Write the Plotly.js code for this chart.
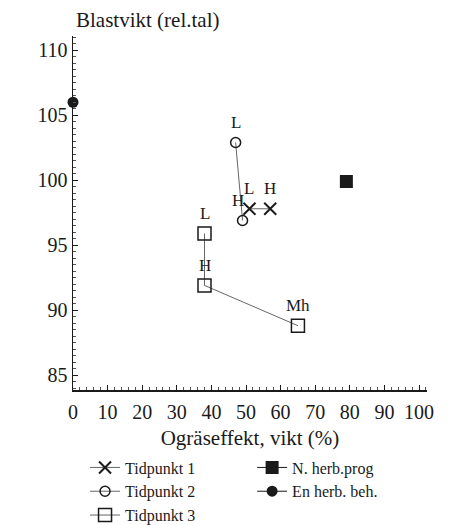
<!DOCTYPE html>
<html>
<head>
<meta charset="utf-8">
<script src="https://cdn.plot.ly/plotly-3.0.1.min.js"></script>
<style>html,body{margin:0;padding:0;background:#fff;}#chart{width:454px;height:525px;}</style>
</head>
<body>
<div id="chart"></div>
<script>
// Data
const t1X = [51, 57];
const t1Y = [97.8, 97.8];
const t1Labels = ['L', 'H'];

const t2X = [47, 49];
const t2Y = [102.9, 96.9];
const t2Labels = ['L', 'H'];

const t3X = [38, 38, 65];
const t3Y = [95.9, 91.9, 88.8];
const t3Labels = ['L', 'H', 'Mh'];

const nX = [79];
const nY = [99.9];

const enX = [0];
const enY = [106];

const xTicks = [0, 10, 20, 30, 40, 50, 60, 70, 80, 90, 100];
const yTicks = [85, 90, 95, 100, 105, 110];

const FONT = '"Liberation Serif"';
const INK = '#1a1a1a';
const LINE = '#666';

const traces = [
  {x: t1X, y: t1Y, name: 'Tidpunkt 1', mode: 'lines+markers', legend: 'legend',
   line: {color: LINE, width: 1}, marker: {symbol: 'x-thin-open', size: 12, color: INK, line: {color: INK, width: 2}}, cliponaxis: false},
  {x: t2X, y: t2Y, name: 'Tidpunkt 2', mode: 'lines+markers', legend: 'legend',
   line: {color: LINE, width: 1}, marker: {symbol: 'circle-open', size: 10, color: INK, line: {color: INK, width: 1.5}}, cliponaxis: false},
  {x: t3X, y: t3Y, name: 'Tidpunkt 3', mode: 'lines+markers', legend: 'legend',
   line: {color: LINE, width: 1}, marker: {symbol: 'square-open', size: 13, color: INK, line: {color: INK, width: 1.5}}, cliponaxis: false},
  {x: nX, y: nY, name: 'N. herb.prog', mode: 'lines+markers', legend: 'legend2',
   line: {color: INK, width: 1}, marker: {symbol: 'square', size: 13, color: INK}, cliponaxis: false},
  {x: enX, y: enY, name: 'En herb. beh.', mode: 'lines+markers', legend: 'legend2',
   line: {color: INK, width: 1}, marker: {symbol: 'circle', size: 11, color: INK}, cliponaxis: false}
];

const annotations = [];
function addLabels(xs, ys, labels, xshift) {
  labels.forEach((t, i) => annotations.push({
    x: xs[i], y: ys[i], xref: 'x', yref: 'y', text: t, showarrow: false,
    xshift: xshift ? xshift[i] : 0, yshift: 20, font: {family: FONT, size: 17, color: INK}
  }));
}
addLabels(t1X, t1Y, t1Labels);
addLabels(t2X, t2Y, t2Labels, [0, -5]);
addLabels(t3X, t3Y, t3Labels);

const layout = {
  width: 454, height: 525,
  margin: {l: 73, r: 27, t: 36, b: 135, autoexpand: false},
  paper_bgcolor: '#fff', plot_bgcolor: '#fff',
  font: {family: FONT, size: 18, color: INK},
  showlegend: true,
  title: {text: 'Blastvikt (rel.tal)', x: 76/454, xref: 'container', xanchor: 'left',
          y: 1 - 20/525, yref: 'container', yanchor: 'middle', font: {family: FONT, size: 21, color: INK}},
  xaxis: {
    range: [0, 102.3], tickmode: 'array', tickvals: xTicks, ticktext: xTicks.map(String),
    showgrid: false, zeroline: false, showline: true, linecolor: INK, linewidth: 1.5,
    ticks: 'inside', ticklen: 5, tickcolor: INK, tickwidth: 1, ticklabelstandoff: 3,
    minor: {dtick: 2, ticks: 'inside', ticklen: 3, tickcolor: '#555', showgrid: false},
    tickfont: {family: FONT, size: 20, color: INK},
    title: {text: 'Ogräseffekt, vikt (%)', font: {family: FONT, size: 21, color: INK}, standoff: 9},
    fixedrange: true
  },
  yaxis: {
    range: [83.85, 111.1], tickmode: 'array', tickvals: yTicks, ticktext: yTicks.map(String),
    showgrid: false, zeroline: false, showline: true, linecolor: INK, linewidth: 1.5,
    ticks: 'inside', ticklen: 5, tickcolor: INK, tickwidth: 1,
    minor: {dtick: 0.5, ticks: 'inside', ticklen: 3, tickcolor: '#555', showgrid: false},
    tickfont: {family: FONT, size: 20, color: INK},
    fixedrange: true
  },
  legend: {x: 0.034, y: -0.171, xanchor: 'left', yanchor: 'top', orientation: 'v',
           bgcolor: 'rgba(0,0,0,0)', font: {family: FONT, size: 16, color: INK},
           tracegroupgap: 0, itemwidth: 30},
  legend2: {x: 0.506, y: -0.171, xanchor: 'left', yanchor: 'top', orientation: 'v',
            bgcolor: 'rgba(0,0,0,0)', font: {family: FONT, size: 16, color: INK},
            tracegroupgap: 0, itemwidth: 30},
  annotations: annotations
};

Plotly.newPlot('chart', traces, layout, {displayModeBar: false, staticPlot: true});
</script>
</body>
</html>
